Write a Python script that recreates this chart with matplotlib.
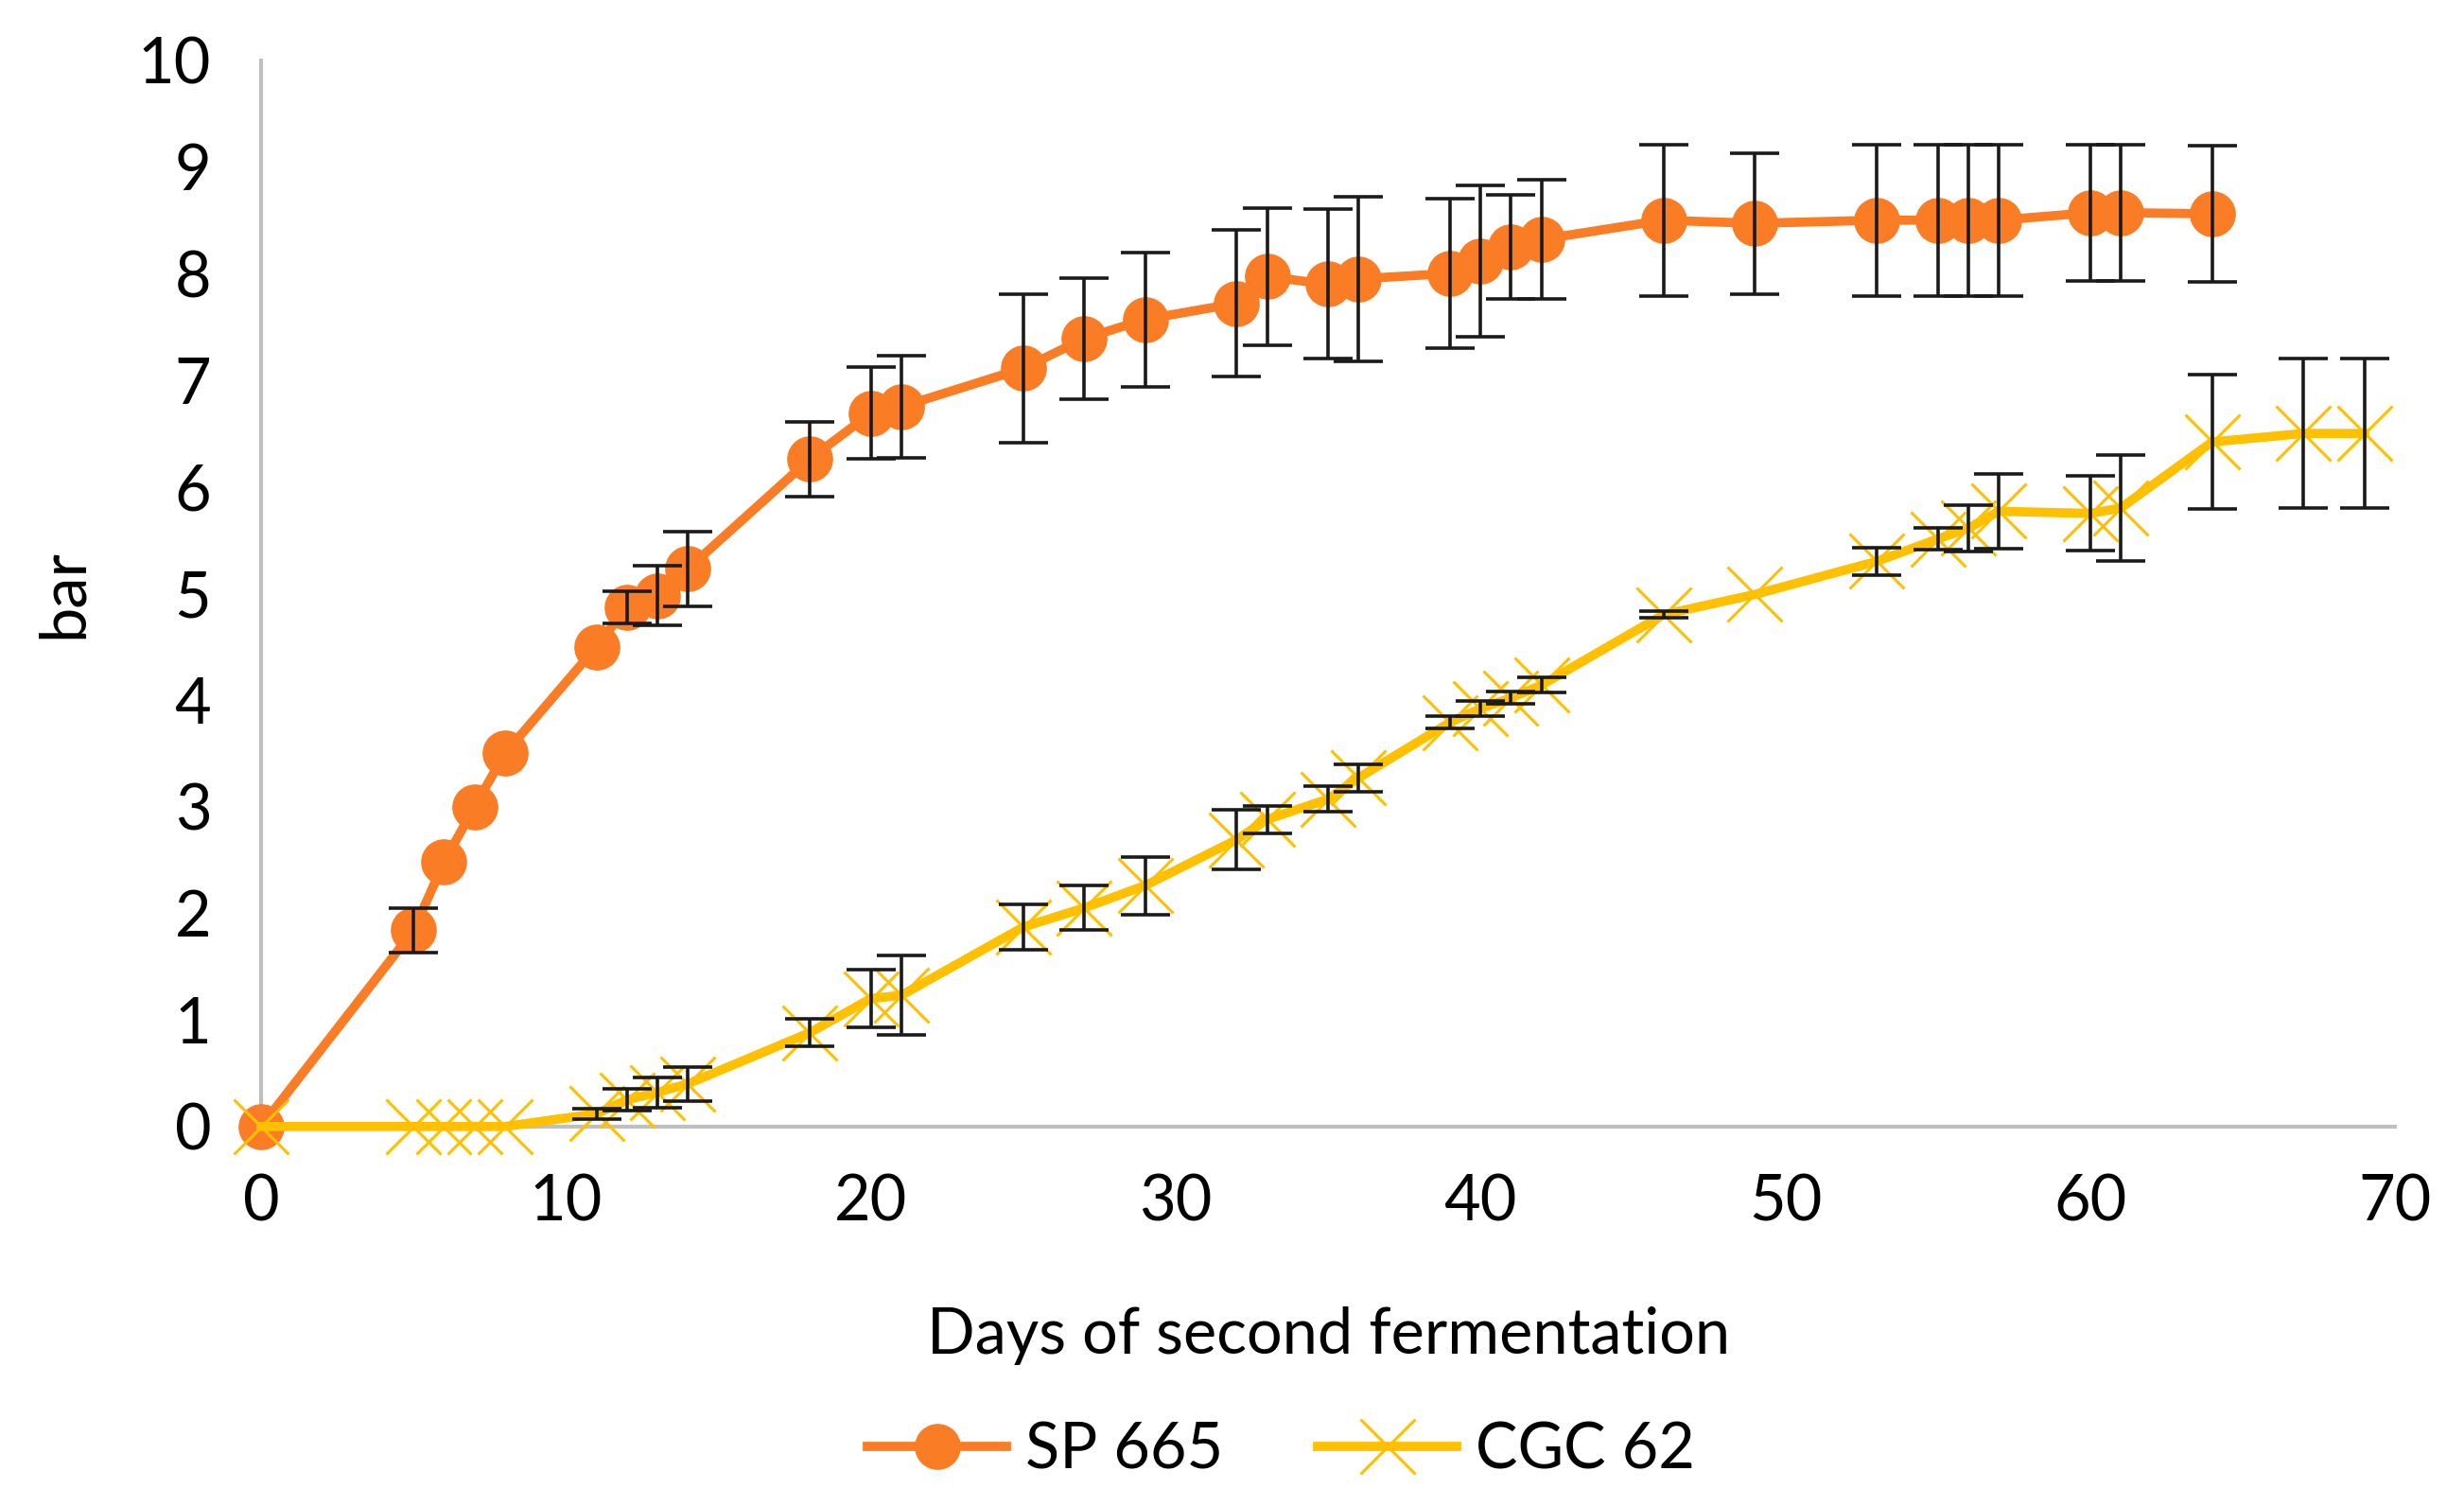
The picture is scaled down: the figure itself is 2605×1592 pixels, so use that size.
import matplotlib.pyplot as plt

# SP 665 (orange, circles)
sp_days = [0, 5, 6, 7, 8, 11, 12, 13, 14, 18, 20, 21, 25, 27, 29, 32, 33, 35, 36,
           39, 40, 41, 42, 46, 49, 53, 55, 56, 57, 60, 61, 64]
sp_bar = [0, 1.84, 2.48, 3.0, 3.5, 4.5, 4.87, 4.98, 5.23, 6.26, 6.69, 6.75, 7.11,
          7.39, 7.57, 7.72, 7.97, 7.9, 7.95, 8.0, 8.12, 8.25, 8.32, 8.5, 8.47,
          8.5, 8.5, 8.5, 8.5, 8.57, 8.57, 8.56]
sp_err = [0, 0.21, 0, 0, 0, 0, 0.15, 0.28, 0.35, 0.35, 0.43, 0.48, 0.7, 0.57,
          0.63, 0.69, 0.64, 0.7, 0.77, 0.7, 0.71, 0.49, 0.56, 0.71, 0.66, 0.71,
          0.71, 0.71, 0.71, 0.64, 0.64, 0.64]

# CGC 62 (yellow, crosses)
cgc_days = [0, 5, 6, 7, 8, 11, 12, 13, 14, 18, 20, 21, 25, 27, 29, 32, 33, 35,
            36, 39, 40, 41, 42, 46, 49, 53, 55, 56, 57, 60, 61, 64, 67, 69]
cgc_bar = [0, 0, 0, 0, 0, 0.12, 0.25, 0.32, 0.4, 0.88, 1.2, 1.23, 1.87, 2.05,
           2.26, 2.69, 2.88, 3.07, 3.27, 3.79, 3.92, 4.02, 4.14, 4.8, 4.99, 5.3,
           5.51, 5.61, 5.77, 5.75, 5.8, 6.42, 6.5, 6.5]
cgc_err = [0, 0, 0, 0, 0, 0.05, 0.1, 0.14, 0.16, 0.13, 0.27, 0.37, 0.21, 0.21,
           0.27, 0.28, 0.13, 0.12, 0.13, 0.06, 0.07, 0.06, 0.07, 0.03, 0, 0.13,
           0.1, 0.22, 0.35, 0.35, 0.5, 0.63, 0.7, 0.7]

orange = "#FA7D26"
yellow = "#FFC000"

plt.rcParams['font.family'] = ['Lato', 'DejaVu Sans']

fig = plt.figure(figsize=(26.05, 15.92), dpi=100)
ax = fig.add_axes([0.106, 0.252, 0.866, 0.708])

# lines + markers
ax.plot(sp_days, sp_bar, color=orange, lw=7, marker='o', ms=34,
        label="SP 665", zorder=3, clip_on=False)
ax.plot(cgc_days, cgc_bar, color=yellow, lw=7, marker='x', ms=42, mew=2.2,
        label="CGC 62", zorder=3, clip_on=False)


def draw_err(days, vals, errs):
    # only points that actually have an error bar
    pts = [(d, v, e) for d, v, e in zip(days, vals, errs) if e > 0]
    xs = [p[0] for p in pts]
    ys = [p[1] for p in pts]
    es = [p[2] for p in pts]
    ax.errorbar(xs, ys, yerr=es, fmt='none', ecolor='#1a1a1a',
                elinewidth=2.6, capsize=19, capthick=2.6, zorder=4)


draw_err(sp_days, sp_bar, sp_err)
draw_err(cgc_days, cgc_bar, cgc_err)

ax.set_xlim(0, 70)
ax.set_ylim(0, 10)
ax.set_xticks(range(0, 71, 10))
ax.set_yticks(range(0, 11))
ax.tick_params(length=0, labelsize=48)
ax.tick_params(axis='y', pad=38)
ax.tick_params(axis='x', pad=36)
for s in ['top', 'right']:
    ax.spines[s].set_visible(False)
for s in ['left', 'bottom']:
    ax.spines[s].set_color('#BFBFBF')
    ax.spines[s].set_linewidth(3)
    ax.spines[s].set_zorder(1)

ax.set_xlabel("Days of second fermentation", fontsize=48, labelpad=56)
ax.set_ylabel("bar", fontsize=48, labelpad=34)

fig.legend(loc='center', bbox_to_anchor=(0.52, 0.037), ncol=2, frameon=False,
           fontsize=48, handlelength=2.2, columnspacing=1.5, handletextpad=0.3)

fig.savefig("out.png", dpi=100)
